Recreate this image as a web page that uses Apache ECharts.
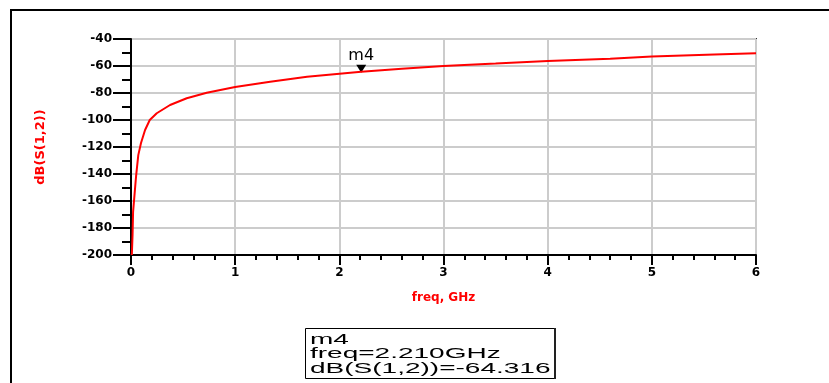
<!DOCTYPE html>
<html>
<head>
<meta charset="utf-8">
<script src="https://cdn.jsdelivr.net/npm/echarts@6/dist/echarts.min.js"></script>
<style>
html,body{margin:0;padding:0;background:#fff;}
#chart{width:829px;height:383px;}
</style>
</head>
<body>
<div id="chart"></div>
<script>
// Frequency (GHz) and dB(S(1,2))
const freqGHz = [0.008, 0.015, 0.02, 0.045, 0.05, 0.07, 0.096, 0.135, 0.18, 0.247, 0.375, 0.535, 0.727, 1.0, 1.336, 1.69, 2.21, 2.6, 3.0, 3.5, 4.0, 4.6, 5.0, 5.6, 6.0];
const dBS12   = [-200, -185, -168, -145, -140.7, -126, -117, -107.4, -100, -95, -88.9, -83.9, -79.8, -75.5, -71.6, -67.9, -64.316, -62, -60, -58.2, -56.3, -54.6, -53, -51.4, -50.6];
const xTickLabels = ['0', '1', '2', '3', '4', '5', '6'];
const yTickLabels = ['-200', '-180', '-160', '-140', '-120', '-100', '-80', '-60', '-40'];
const markerName = 'm4';
const markerFreq = 2.21;
const markerDB = -64.316;

const seriesData = freqGHz.map((f, i) => [f, dBS12[i]]);

const chart = echarts.init(document.getElementById('chart'), null, {renderer: 'canvas'});
chart.setOption({
  backgroundColor: '#ffffff',
  animation: false,
  grid: {left: 131, right: 73, top: 39, bottom: 128, show: true, borderColor: '#333', borderWidth: 2, backgroundColor: 'transparent'},
  xAxis: {
    type: 'value', min: 0, max: 6, interval: 1,
    name: 'freq, GHz', nameLocation: 'middle', nameGap: 37,
    nameTextStyle: {color: '#ff0000', fontSize: 12, fontWeight: 'bold', fontFamily: 'DejaVu Sans'},
    axisLine: {show: true, lineStyle: {color: '#000', width: 2}},
    axisTick: {show: true, length: 10, lineStyle: {color: '#000', width: 2}},
    minorTick: {show: true, splitNumber: 5, length: 5, lineStyle: {color: '#000', width: 2}},
    splitLine: {show: true, lineStyle: {color: '#cccccc', width: 2}},
    axisLabel: {margin: 12, color: '#000', fontSize: 12, fontWeight: 'bold', fontFamily: 'DejaVu Sans',
      formatter: v => xTickLabels[Math.round(v)]}
  },
  yAxis: {
    type: 'value', min: -200, max: -40, interval: 20,
    name: 'dB(S(1,2))', nameLocation: 'middle', nameGap: 84, nameRotate: 90,
    nameTextStyle: {color: '#ff0000', fontSize: 13, fontWeight: 'bold', fontFamily: 'DejaVu Sans'},
    axisLine: {show: true, lineStyle: {color: '#000', width: 2}},
    axisTick: {show: true, length: 18, lineStyle: {color: '#000', width: 2}},
    minorTick: {show: true, splitNumber: 2, length: 9, lineStyle: {color: '#000', width: 2}},
    splitLine: {show: true, lineStyle: {color: '#cccccc', width: 2}},
    axisLabel: {margin: 19, color: '#000', fontSize: 12, fontWeight: 'bold', fontFamily: 'DejaVu Sans',
      formatter: v => yTickLabels[Math.round((v + 200) / 20)]}
  },
  series: [{
    type: 'line',
    data: seriesData,
    showSymbol: false,
    lineStyle: {color: '#ff0000', width: 2},
    itemStyle: {color: '#ff0000'},
    z: 5,
    markPoint: {
      symbol: 'triangle', symbolRotate: 180, symbolSize: [10, 8], symbolOffset: [0, -3],
      itemStyle: {color: '#000'},
      label: {show: true, position: 'top', distance: 1, color: '#000', fontSize: 16, fontFamily: 'DejaVu Sans',
        formatter: markerName},
      data: [{name: markerName, coord: [markerFreq, markerDB]}]
    }
  }],
  graphic: [
    {type: 'polyline', shape: {points: [[829, 10], [11, 10], [11, 383]]}, style: {stroke: '#000', lineWidth: 2, fill: null}, silent: true},
    {type: 'rect', shape: {x: 305.5, y: 328.5, width: 249, height: 50}, style: {stroke: '#000', lineWidth: 1, fill: '#fff'}, silent: true},
    {type: 'line', shape: {x1: 555, y1: 328, x2: 555, y2: 379}, style: {stroke: '#222', lineWidth: 2}, silent: true},
    {type: 'text', x: 310, y: 333, scaleX: 2.0, silent: true,
      style: {text: markerName, x: 0, y: 0, font: '14px "Liberation Sans"', fill: '#000', verticalAlign: 'top'}},
    {type: 'text', x: 310, y: 347.5, scaleX: 2.0, silent: true,
      style: {text: 'freq=' + markerFreq.toFixed(3) + 'GHz', x: 0, y: 0, font: '14px "Liberation Sans"', fill: '#000', verticalAlign: 'top'}},
    {type: 'text', x: 310, y: 362, scaleX: 2.0, silent: true,
      style: {text: 'dB(S(1,2))=' + markerDB.toFixed(3), x: 0, y: 0, font: '14px "Liberation Sans"', fill: '#000', verticalAlign: 'top'}}
  ]
});
</script>
</body>
</html>
